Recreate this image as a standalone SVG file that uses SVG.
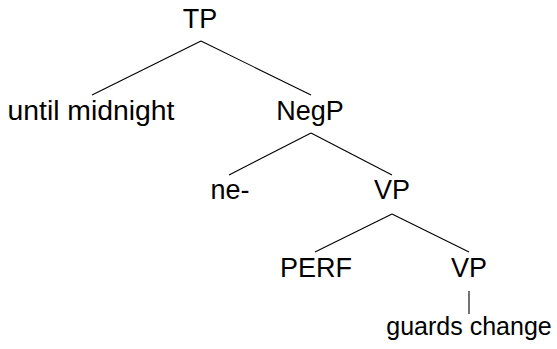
<svg xmlns="http://www.w3.org/2000/svg" width="557" height="349" viewBox="0 0 557 349">
<style>
text{font-family:"Liberation Sans",Arial,sans-serif;font-size:27px;fill:#000;text-anchor:middle}
.e{stroke:#000;stroke-width:1.1;fill:none}
</style>
<rect width="557" height="349" fill="#fff"/>
<g id="connectors">
<line class="e" x1="201" y1="41" x2="92" y2="95"/>
<line class="e" x1="201" y1="41" x2="311" y2="95"/>
<line class="e" x1="311" y1="133" x2="229" y2="175"/>
<line class="e" x1="311" y1="133" x2="392" y2="175"/>
<line class="e" x1="392" y1="214" x2="315" y2="252"/>
<line class="e" x1="392" y1="214" x2="469" y2="252"/>
<line class="e" x1="469" y1="291" x2="469" y2="314"/>
</g>
<g id="n-TP"><text x="200" y="28">TP</text></g>
<g id="n-until"><text x="91" y="120" textLength="167" lengthAdjust="spacingAndGlyphs">until midnight</text></g>
<g id="n-NegP"><text x="310" y="120">NegP</text></g>
<g id="n-ne"><text x="230" y="199">ne-</text></g>
<g id="n-VP1"><text x="392" y="199">VP</text></g>
<g id="n-PERF"><text x="316" y="277">PERF</text></g>
<g id="n-VP2"><text x="469" y="277">VP</text></g>
<g id="n-guards"><text x="469" y="335" style="font-size:25px">guards change</text></g>
</svg>
